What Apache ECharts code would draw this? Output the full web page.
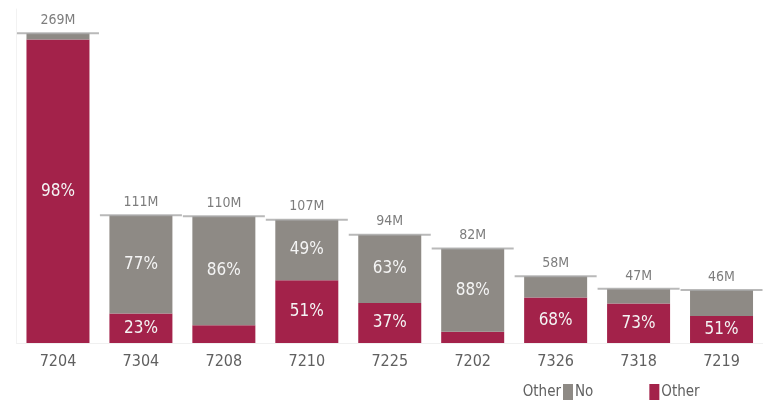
<!DOCTYPE html>
<html>
<head>
<meta charset="utf-8">
<script src="https://cdn.jsdelivr.net/npm/echarts@6/dist/echarts.min.js"></script>
<style>
  html, body { margin: 0; padding: 0; background: #fff; }
  #chart { width: 763px; height: 403px; }
</style>
</head>
<body>
<div id="chart"></div>
<script>
// categories and totals (M)
const categories = ['7204', '7304', '7208', '7210', '7225', '7202', '7326', '7318', '7219']
const totals = [269, 111, 110, 107, 94, 82, 58, 47, 46]
// share of each total, in %
const otherPct = [98, 23, 14, 51, 37, 12, 68, 73, 51]
const noPct = [2, 77, 86, 49, 63, 88, 32, 27, 49]
// which percent labels are printed in the picture
const otherShown = [true, true, false, true, true, false, true, true, true]
const noShown = [false, true, true, true, true, true, false, false, false]

const RED = '#a3224a'
const GRAY = '#8e8a85'
const FONT = '"DejaVu Sans Condensed", "Liberation Sans", Arial, sans-serif'

function stackData(pct, shown) {
  return totals.map((t, i) => ({
    value: t * pct[i] / 100,
    label: { show: shown[i], formatter: pct[i] + '%' }
  }))
}

const pctLabel = {
  position: 'inside',
  color: '#f4f4f4',
  fontSize: 17,
  fontFamily: FONT
}

const chart = echarts.init(document.getElementById('chart'))
chart.setOption({
  animation: false,
  grid: { left: 16.5, top: 9, width: 755, height: 334 },
  legend: {
    left: 563,
    top: 384,
    padding: 0,
    icon: 'rect',
    itemWidth: 10,
    itemHeight: 16,
    itemGap: 56,
    textStyle: { color: '#606060', fontSize: 15, fontFamily: FONT, padding: [0, 0, 0, -3] },
    data: ['No', 'Other']
  },
  graphic: [{
    type: 'text',
    x: 561,
    y: 392,
    style: {
      text: 'Other', fill: '#606060', fontSize: 15, fontFamily: FONT,
      align: 'right', verticalAlign: 'middle'
    }
  }],
  xAxis: {
    type: 'category',
    data: categories,
    axisTick: { show: false },
    axisLine: { lineStyle: { color: '#f0f0f0' } },
    axisLabel: { color: '#606060', fontSize: 16, fontFamily: FONT, margin: 11 }
  },
  yAxis: {
    type: 'value',
    min: 0,
    max: 290,
    axisLabel: { show: false },
    splitLine: { show: false },
    axisLine: { show: true, lineStyle: { color: '#f2f2f2' } }
  },
  series: [
    {
      name: 'Other',
      type: 'bar',
      stack: 'total',
      barWidth: 63,
      itemStyle: { color: RED },
      label: pctLabel,
      data: stackData(otherPct, otherShown)
    },
    {
      name: 'No',
      type: 'bar',
      stack: 'total',
      barWidth: 63,
      itemStyle: { color: GRAY },
      label: pctLabel,
      data: stackData(noPct, noShown)
    },
    {
      name: 'Total',
      type: 'scatter',
      symbol: 'rect',
      symbolSize: [82, 2],
      itemStyle: { color: '#a8a8a8' },
      label: {
        show: true,
        position: 'top',
        distance: 5,
        color: '#5c5c5c',
        fontSize: 14,
        fontFamily: FONT,
        formatter: p => p.value + 'M'
      },
      data: totals
    }
  ]
})
</script>
</body>
</html>
